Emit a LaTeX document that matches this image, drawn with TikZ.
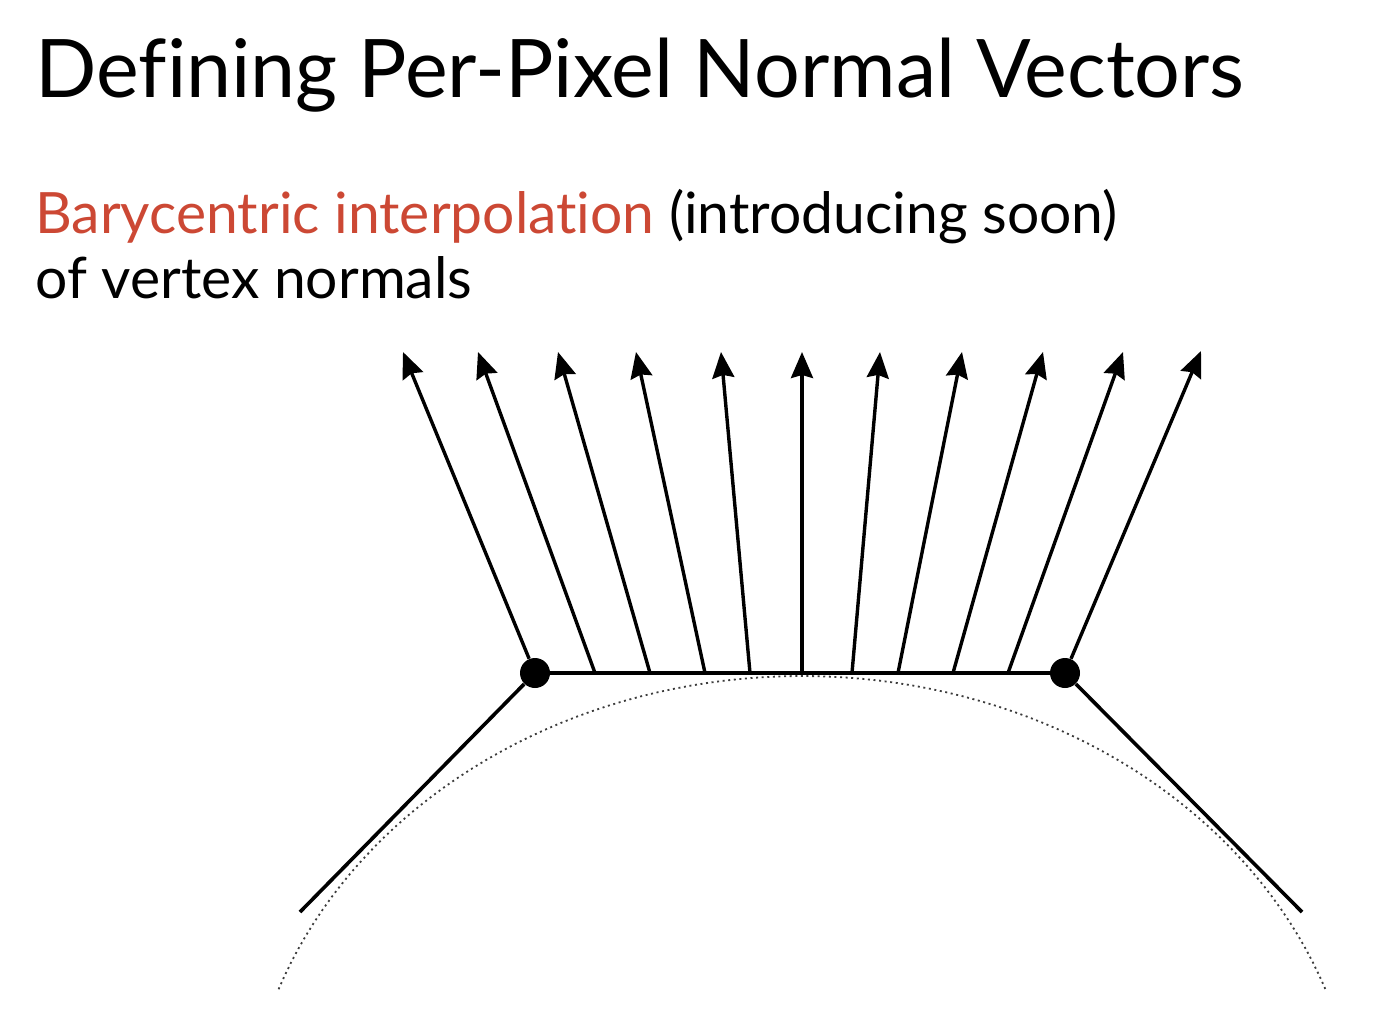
\documentclass[tikz,border=0pt]{standalone}
\usepackage{fontspec}
\setmainfont{Lato}[Ligatures=NoCommon]
\usetikzlibrary{arrows.meta}
\usetikzlibrary{positioning}
\definecolor{slidered}{RGB}{204,72,52}
\definecolor{curvegray}{RGB}{60,60,60}

\begin{document}
\begin{tikzpicture}[
    x=0.5pt, y=-0.5pt,
    vertex/.style={circle, fill=black, inner sep=0, minimum size=15pt},
    normal/.style={-{Stealth[length=13pt, width=11pt, inset=1.5pt]}, line width=1.7pt},
    edge/.style={line width=1.8pt},
    surface/.style={curvegray, line width=0.9pt, dash pattern=on 1pt off 1.8pt},
    title/.style={anchor=base west, inner sep=0, font=\fontsize{40.4}{48}\selectfont},
    body/.style={anchor=base west, inner sep=0, font=\fontsize{28.5}{34}\selectfont},
    ]
    \useasboundingbox (0, 0) rectangle (1399, 1029);

    \node (title) [title] at (35, 97) {Defining Per-Pixel Normal Vectors};
    \node (line1) [body] at (35, 233) {\textcolor{slidered}{Barycentric interpolation} (introducing soon)};
    \node (line2) [body] at (35, 298) {of vertex normals};

    % true surface
    \draw [surface] plot [domain=200:340, samples=80]
        ({802 + 557*cos(\x)}, {1152 + 476*sin(\x)});

    % triangle edges and vertices
    \node (v1) [vertex] at (535, 673) {};
    \node (v2) [vertex] at (1065, 673) {};
    \coordinate (e1) at (300, 912);
    \coordinate (e2) at (1302, 912);
    \draw [edge] (v1) -- (v2);
    \draw [edge] (v1) -- (e1);
    \draw [edge] (v2) -- (e2);

    % interpolated normals
    \draw [normal] (v1) -- (403, 352);
    \draw [normal] (v2) -- (1201, 351);
    \foreach \b/\t [count=\i] in {595/478, 650/558, 705/636, 750/721,
        802/802, 852/880, 898/962, 953/1043, 1008/1123} {
        \coordinate (b\i) at (\b, 673);
        \coordinate (n\i) at (\t, 352);
        \draw [normal] (b\i) -- (n\i);
    }
\end{tikzpicture}
\end{document}
